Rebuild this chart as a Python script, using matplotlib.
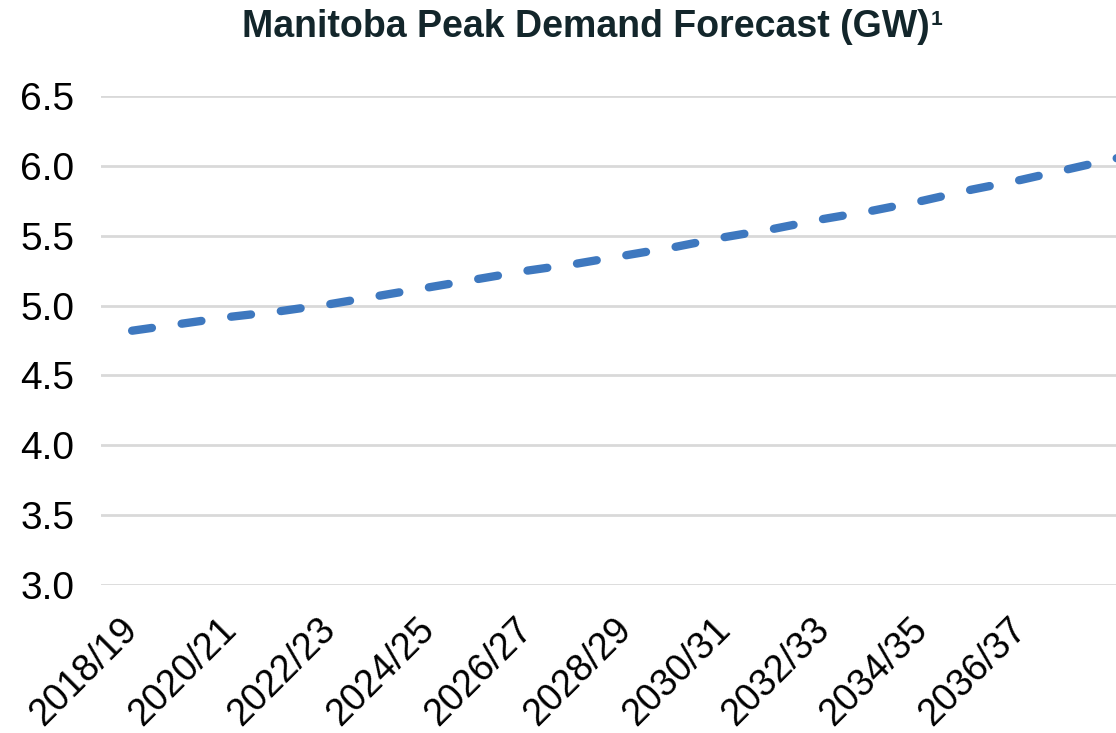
"""Manitoba peak demand forecast line chart."""

import matplotlib
matplotlib.use("Agg")
import matplotlib.pyplot as plt

# ============ data ============
years = [
    "2018/19", "2019/20", "2020/21", "2021/22", "2022/23", "2023/24", "2024/25",
    "2025/26", "2026/27", "2027/28", "2028/29", "2029/30", "2030/31", "2031/32",
    "2032/33", "2033/34", "2034/35", "2035/36", "2036/37", "2037/38", "2038/39",
]
peak_gw = [
    4.82, 4.87, 4.92, 4.96, 5.01, 5.07, 5.13, 5.19, 5.25, 5.30, 5.36,
    5.42, 5.49, 5.55, 5.62, 5.68, 5.75, 5.83, 5.90, 5.98, 6.06,
]
y_ticks = [3.0, 3.5, 4.0, 4.5, 5.0, 5.5, 6.0, 6.5]
title = "Manitoba Peak Demand Forecast (GW)"

plt.rcParams["font.family"] = ["Liberation Sans", "DejaVu Sans"]

W, H = 1116, 733
fig = plt.figure(figsize=(W / 100, H / 100), dpi=100)

# plot area in pixels: left 101 to the right edge (chart is cropped there), y 96..585
left, right, top, bottom = 101, 1116, 96, 585
ax = fig.add_axes([left / W, (H - bottom) / H, (right - left) / W, (bottom - top) / H])

x = list(range(len(years)))
ax.plot(x, peak_gw, color="#3E78BF", lw=6, dashes=(2.4, 3.6),
        dash_capstyle="round", solid_capstyle="round", zorder=3)

ax.set_xlim(-0.63, 19.92)
ax.set_ylim(3.0, 6.5)
ax.set_yticks(y_ticks)
ax.set_yticklabels([f"{v:.1f}" for v in y_ticks], fontsize=28)
ax.yaxis.grid(True, color="#D9D9D9", lw=2)
ax.set_axisbelow(True)

tick_idx = list(range(0, 19, 2))
ax.set_xticks(tick_idx)
ax.set_xticklabels([years[i] for i in tick_idx], fontsize=27, rotation=45,
                   ha="right", va="center", rotation_mode="anchor")
ax.tick_params(axis="x", length=0, pad=28)
ax.tick_params(axis="y", length=0, pad=19)
for s in ax.spines.values():
    s.set_visible(False)

# title with superscript footnote marker
t = fig.text(586 / W, 1 - 37 / H, title, ha="center", va="baseline",
             fontsize=27, fontweight="bold", color="#13262B")
fig.canvas.draw()
bb = t.get_window_extent()
fig.text((bb.x1 + 1) / W, 1 - 25 / H, "1", ha="left", va="baseline",
         fontsize=15, fontweight="bold", color="#13262B")

fig.savefig("out.png", dpi=100)
